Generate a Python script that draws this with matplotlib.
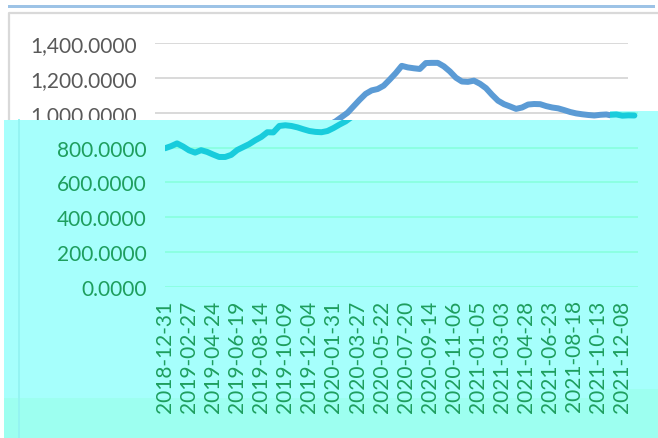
import matplotlib.pyplot as plt
from matplotlib.patches import Polygon, Rectangle
from matplotlib.lines import Line2D
from matplotlib.transforms import Bbox, TransformedBbox

# tick labels of the category axis (one label every 4 points)
date_labels = ['2018-12-31', '2019-02-27', '2019-04-24', '2019-06-19', '2019-08-14',
               '2019-10-09', '2019-12-04', '2020-01-31', '2020-03-27', '2020-05-22',
               '2020-07-20', '2020-09-14', '2020-11-06', '2021-01-05', '2021-03-03',
               '2021-04-28', '2021-06-23', '2021-08-18', '2021-10-13', '2021-12-08']
# values, roughly every 10 trading days
values = [796, 808, 824, 806, 784, 771, 785, 775, 760, 746,
          746, 758, 786, 803, 820, 842, 861, 888, 887, 924,
          928, 924, 916, 905, 895, 890, 888, 895, 912, 932,
          950, 975, 1000, 1037, 1074, 1108, 1128, 1136, 1155, 1190,
          1227, 1269, 1260, 1255, 1251, 1285, 1286, 1286, 1266, 1237,
          1201, 1179, 1177, 1184, 1166, 1141, 1103, 1069, 1049, 1036,
          1022, 1030, 1047, 1050, 1049, 1038, 1030, 1025, 1015, 1004,
          996, 991, 987, 984, 988, 990, 983, 985, 984]
y_ticks = [0, 200, 400, 600, 800, 1000, 1200, 1400]

W, H = 658, 439


def fig_box(x0, y0, x1, y1):
    # pixel box (origin top-left) -> figure fraction [left, bottom, width, height]
    return [x0 / W, 1 - y1 / H, (x1 - x0) / W, (y1 - y0) / H]


def fig_pts(pts):
    return [(x / W, 1 - y / H) for x, y in pts]


def draw_chart(ax, line_color, text_color, grid_color):
    x = list(range(len(values)))
    ax.plot(x, values, color=line_color, lw=4.3, solid_capstyle='round',
            solid_joinstyle='round', zorder=3)
    ax.set_xlim(0, 78.6)
    ax.set_ylim(0, 1400)
    ax.set_yticks(y_ticks)
    ax.set_yticklabels(['{:,.4f}'.format(v) for v in y_ticks])
    ax.set_xticks(range(0, 4 * len(date_labels), 4))
    ax.set_xticklabels(date_labels, rotation=90)
    ax.tick_params(length=0, labelsize=15, labelcolor=text_color)
    ax.tick_params(axis='y', pad=13)
    ax.tick_params(axis='x', pad=9)
    ax.grid(axis='y', color=grid_color, lw=1.4)
    ax.set_axisbelow(True)
    for s in ax.spines.values():
        s.set_visible(False)
    ax.set_facecolor('none')


plt.rcParams['font.family'] = ['Lato', 'DejaVu Sans']

fig = plt.figure(figsize=(W / 100, H / 100), dpi=100)

# chart frame and the blue bar above it
fig.patches.append(Rectangle((8 / W, 1 - 9 / H), 647 / W, 3 / H, transform=fig.transFigure,
                             facecolor='#9DC3E6', edgecolor='none', zorder=1))
fig.lines.append(Line2D([9 / W, 9 / W, 1], [0, 1 - 14 / H, 1 - 14 / H], transform=fig.transFigure,
                        color='#D9D9D9', lw=1.6, zorder=1))

ax = fig.add_axes(fig_box(155, 44, 628, 288))
draw_chart(ax, '#5B9BD5', '#595959', '#D9D9D9')
# labels that sit fully under the cyan block are shown by the shifted copy only
ax.tick_params(axis='x', labelbottom=False)
for v, t in zip(y_ticks, ax.get_yticklabels()):
    t.set_visible(v >= 1000)

# the cyan, shifted block that covers the lower part of the picture
cyan_pts = [(4, 121), (610, 121), (610, 112), (658, 112), (658, 439), (4, 439)]
band_pts = [(4, 399), (603, 399), (603, 390), (658, 390), (658, 439), (4, 439)]
cyan = Polygon(fig_pts(cyan_pts), closed=True, transform=fig.transFigure,
               facecolor='#A6FFFC', edgecolor='none', zorder=5)
band = Polygon(fig_pts(band_pts), closed=True, transform=fig.transFigure,
               facecolor='#9DFFF0', edgecolor='none', zorder=5)
fig.patches.append(cyan)
fig.patches.append(band)
clip = Polygon(fig_pts(cyan_pts), closed=True, transform=fig.transFigure)
fig.lines.append(Line2D([19 / W, 19 / W], [0, 1 - 121 / H], transform=fig.transFigure,
                        color='#94F4F2', lw=1.4, zorder=6))

ax2 = fig.add_axes(fig_box(165, 44, 638, 288))
ax2.set_zorder(10)
draw_chart(ax2, '#18CCDC', '#1E9E5E', '#8CFFE2')
for ln in ax2.get_lines():
    ln.set_clip_path(clip)
# Agg clips text only to boxes, so the texts get the box below y=121
text_box = TransformedBbox(Bbox([[0, 0], [1, 1 - 121 / H]]), fig.transFigure)
for t in ax2.get_xticklabels() + ax2.get_yticklabels():
    t.set_clip_box(text_box)
    t.set_clip_on(True)
for v, t in zip(y_ticks, ax2.get_yticklabels()):
    t.set_visible(v < 1000)
for tick in ax2.yaxis.get_major_ticks():
    tick.gridline.set_clip_path(clip)

fig.savefig('out.png', dpi=100)
